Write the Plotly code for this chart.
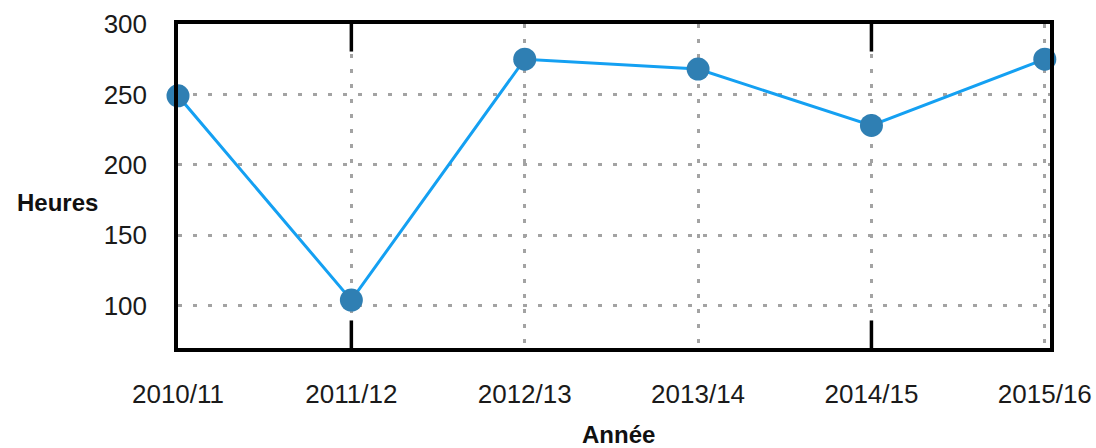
import plotly.graph_objects as go

years = ["2010/11", "2011/12", "2012/13", "2013/14", "2014/15", "2015/16"]
heures = [249, 104, 275, 268, 228, 275]
y_ticks = [100, 150, 200, 250, 300]
major_tick_years = ["2011/12", "2014/15"]

W, H = 1096, 448
L, R, T, B = 178, 46, 24, 100

xi = list(range(len(years)))

fig = go.Figure()
fig.add_trace(go.Scatter(
    x=xi, y=heures, mode="lines",
    line=dict(color="#14A0F2", width=3),
    hoverinfo="skip", cliponaxis=False, showlegend=False,
))
fig.add_trace(go.Scatter(
    x=xi, y=heures, mode="markers",
    marker=dict(color="#2F7FB3", size=23, line=dict(width=0)),
    cliponaxis=False, showlegend=False,
))

font_family = "Liberation Sans, Arial, Helvetica, sans-serif"

# thick inner tick marks at top and bottom
for yr in major_tick_years:
    i = years.index(yr)
    for y0, y1 in [(0, 0.085), (1, 0.915)]:
        fig.add_shape(type="line", xref="x", yref="paper",
                      x0=i, x1=i, y0=y0, y1=y1,
                      line=dict(color="black", width=3.5), layer="above")

grid = dict(showgrid=True, gridcolor="#a3a3a3", griddash="4px,11px", gridwidth=2.5)

fig.update_layout(
    width=W, height=H,
    margin=dict(l=L, r=R, t=T, b=B, autoexpand=False),
    paper_bgcolor="white", plot_bgcolor="white",
    font=dict(family=font_family, color="#1a1a1a", size=26),
    xaxis=dict(
        range=[0, (len(years) - 1) * 1.006],
        tickmode="array", tickvals=xi, ticktext=years,
        showline=True, linecolor="black", linewidth=3.5, mirror=True,
        ticks="", ticklabelstandoff=20, automargin=False,
        ticklabeloverflow="allow",
        tickfont=dict(size=26, color="#1a1a1a"),
        zeroline=False, **grid,
    ),
    yaxis=dict(
        range=[70, 300],
        tickmode="array", tickvals=y_ticks,
        showline=True, linecolor="black", linewidth=3.5, mirror=True,
        ticks="", ticklabelstandoff=22, automargin=False,
        ticklabeloverflow="allow",
        tickfont=dict(size=26, color="#1a1a1a"),
        zeroline=False, **grid,
    ),
    annotations=[
        dict(text="<b>Heures</b>", xref="paper", yref="paper",
             x=-0.089, y=0.45, xanchor="right", yanchor="middle",
             showarrow=False, font=dict(size=24, color="#111111")),
        dict(text="<b>Année</b>", xref="paper", yref="paper",
             x=0.505, y=-0.222, xanchor="center", yanchor="top",
             borderpad=0,
             showarrow=False, font=dict(size=24, color="#111111")),
    ],
)

fig.write_html(
    "out.html",
    config={"displayModeBar": False},
    post_script="document.body.style.margin='0';document.body.style.overflow='hidden';",
)
